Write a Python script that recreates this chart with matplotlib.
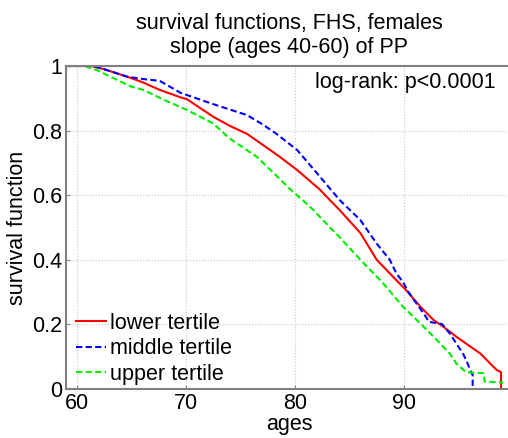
import numpy as np
import matplotlib
matplotlib.use('Agg')
import matplotlib.pyplot as plt

plt.rcParams['font.family'] = ['Liberation Sans', 'DejaVu Sans']

# survival curves (age, survival)
lower_age = [59.0, 61.3, 62.5, 64.6, 66.0, 67.6, 69.5, 70.1, 72.5, 74.0, 75.6, 77.0,
             78.6, 80.2, 82.3, 83.2, 84.1, 86.0, 87.5, 88.1, 89.3, 90.2, 90.7, 91.5,
             92.7, 93.6, 94.8, 96.1, 97.0, 97.9, 98.5, 98.9, 98.9]
lower_surv = [1.0, 1.0, 0.99, 0.967, 0.95, 0.926, 0.903, 0.897, 0.843, 0.815, 0.79, 0.757,
              0.719, 0.678, 0.617, 0.585, 0.554, 0.483, 0.40, 0.379, 0.337, 0.306, 0.286, 0.255,
              0.214, 0.193, 0.162, 0.131, 0.11, 0.079, 0.059, 0.052, 0.0]

middle_age = [59.0, 61.5, 62.5, 64.6, 66.0, 67.6, 69.5, 72.5, 75.6, 77.0, 78.3, 80.2,
              82.3, 84.1, 86.0, 87.5, 88.7, 89.3, 89.9, 90.3, 90.7, 91.8, 92.3, 93.5,
              94.2, 94.8, 95.4, 95.7, 96.2, 96.3, 96.3]
middle_surv = [1.0, 1.0, 0.99, 0.967, 0.96, 0.954, 0.917, 0.882, 0.848, 0.82, 0.79, 0.74,
               0.657, 0.585, 0.523, 0.45, 0.40, 0.358, 0.332, 0.306, 0.286, 0.234, 0.208, 0.201,
               0.172, 0.141, 0.11, 0.09, 0.049, 0.045, 0.0]

upper_age = [59.0, 60.7, 62.0, 63.0, 65.0, 66.1, 68.0, 70.1, 72.5, 74.0, 76.5, 78.0,
             79.8, 80.7, 81.7, 83.5, 84.1, 86.0, 88.1, 89.9, 91.5, 93.0, 94.2, 94.8,
             95.7, 97.3, 97.4, 99.1]
upper_surv = [1.0, 1.0, 0.985, 0.968, 0.936, 0.926, 0.895, 0.864, 0.822, 0.776, 0.719, 0.67,
              0.611, 0.585, 0.554, 0.49, 0.47, 0.40, 0.327, 0.255, 0.203, 0.152, 0.11, 0.079,
              0.052, 0.049, 0.023, 0.02]

xticks = [60, 70, 80, 90]
yticks = [0, 0.2, 0.4, 0.6, 0.8, 1]
yticklabels = ['0', '0.2', '0.4', '0.6', '0.8', '1']
fs = 15.5

fig = plt.figure(figsize=(5.08, 4.38), dpi=100)
ax = fig.add_axes([66 / 508, 49 / 438, 447 / 508, 323 / 438])

ax.plot(lower_age, lower_surv, color='#ff0000', lw=1.5, ls='-', label='lower tertile')
ax.plot(middle_age, middle_surv, color='#0000ff', lw=1.5, ls=(0, (3, 1.6)),
        label='middle tertile')
ax.plot(upper_age, upper_surv, color='#00ee00', lw=1.5, ls=(0, (3, 1.6)),
        label='upper tertile')

ax.set_xlim(59, 100)
ax.set_ylim(0, 1)
ax.set_xticks(xticks)
ax.set_yticks(yticks)
ax.set_yticklabels(yticklabels)
ax.tick_params(direction='in', labelsize=fs, length=3, color='#808080', pad=3)
ax.grid(True, ls=':', color='#c8c8c8', lw=0.8)
for s in ax.spines.values():
    s.set_color('#808080')
    s.set_linewidth(1.5)

ax.set_xlabel('ages', fontsize=fs, labelpad=0)
ax.set_ylabel('survival function', fontsize=fs, labelpad=3)
ax.set_title('survival functions, FHS, females\nslope (ages 40-60) of PP', fontsize=fs,
             linespacing=1.22, pad=9)
ax.text(98.4, 0.95, 'log-rank: p<0.0001', fontsize=fs, ha='right', va='center')

ax.legend(loc='lower left', bbox_to_anchor=(0.012, 0.0), frameon=False, fontsize=fs,
          handlelength=1.4, handletextpad=0.2, labelspacing=0.21, borderaxespad=0.0,
          borderpad=0.2)

fig.savefig('out.png', dpi=100)
